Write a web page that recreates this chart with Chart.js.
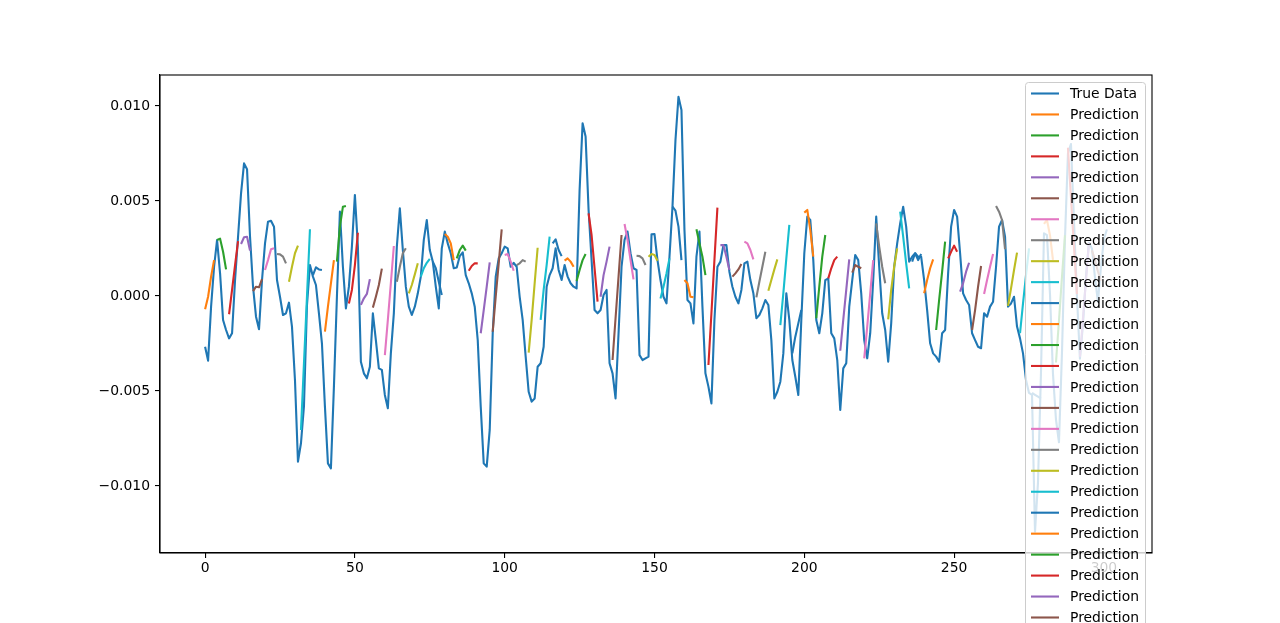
<!DOCTYPE html>
<html>
<head>
<meta charset="utf-8">
<script src="https://cdn.jsdelivr.net/npm/chart.js@4.4.1/dist/chart.umd.min.js"></script>
<style>
  html, body { margin: 0; padding: 0; background: #fff; }
  canvas { display: block; }
</style>
</head>
<body>
<canvas id="chart" width="1280" height="623"></canvas>
<script>
// ==========================================
// DATOS
// ==========================================
const xTicks = [0, 50, 100, 150, 200, 250, 300];
const yTicks = [-0.010, -0.005, 0.000, 0.005, 0.010];

const trueData = [
  -0.00267, -0.00340, -0.00056, 0.00154, 0.00295, 0.00119, -0.00126, -0.00179, -0.00223, -0.00196,
  0.00084, 0.00312, 0.00540, 0.00698, 0.00667, 0.00312, 0.00049, -0.00109, -0.00175, 0.00084,
  0.00277, 0.00391, 0.00396, 0.00365, 0.00084, -0.00004, -0.00100, -0.00091, -0.00035, -0.00161,
  -0.00442, -0.00872, -0.00775, -0.00580, -0.00050, 0.00163, 0.00102, 0.00058, -0.00091, -0.00249,
  -0.00582, -0.00881, -0.00907, -0.00477, -0.00004, 0.00444, 0.00154, -0.00065, 0.00049, 0.00260,
  0.00532, 0.00260, -0.00346, -0.00407, -0.00433, -0.00372, -0.00091, -0.00232, -0.00381, -0.00389,
  -0.00521, -0.00591, -0.00302, -0.00091, 0.00260, 0.00461, 0.00242, 0.00049, -0.00056, -0.00100,
  -0.00056, 0.00014, 0.00102, 0.00295, 0.00400, 0.00242, 0.00181, 0.00049, -0.00065, 0.00251,
  0.00339, 0.00277, 0.00225, 0.00146, 0.00150, 0.00210, 0.00230, 0.00110, 0.00067, 0.00014,
  -0.00056, -0.00232, -0.00582, -0.00881, -0.00898, -0.00705, -0.00196, 0.00102, 0.00198, 0.00225,
  0.00260, 0.00251, 0.00154, 0.00175, 0.00154, -0.00004, -0.00126, -0.00319, -0.00504, -0.00556,
  -0.00539, -0.00372, -0.00354, -0.00267, 0.00049, 0.00110, 0.00146, 0.00251, 0.00137, 0.00084,
  0.00163, 0.00102, 0.00067, 0.00049, 0.00040, 0.00558, 0.00909, 0.00839, 0.00453, 0.00189,
  -0.00074, -0.00091, -0.00074, 0.00005, 0.00032, -0.00354, -0.00407, -0.00539, -0.00196, 0.00154,
  0.00295, 0.00339, 0.00225, 0.00146, 0.00137, -0.00311, -0.00337, -0.00328, -0.00319, 0.00325,
  0.00326, 0.00189, 0.00084, -0.00004, -0.00039, 0.00207, 0.00470, 0.00821, 0.01049, 0.00979,
  0.00347, -0.00021, -0.00039, -0.00144, 0.00207, 0.00339, -0.00056, -0.00407, -0.00477, -0.00565,
  -0.00126, 0.00154, 0.00181, 0.00268, 0.00268, 0.00128, 0.00049, -0.00004, -0.00039, 0.00032,
  0.00172, 0.00181, 0.00084, 0.00014, -0.00117, -0.00100, -0.00065, -0.00021, -0.00047, -0.00232,
  -0.00539, -0.00504, -0.00451, -0.00302, 0.00014, -0.00126, -0.00337, -0.00425, -0.00521, -0.00126,
  0.00225, 0.00418, 0.00400, 0.00189, -0.00126, -0.00196, -0.00091, 0.00084, 0.00093, -0.00196,
  -0.00223, -0.00337, -0.00600, -0.00381, -0.00354, -0.00056, 0.00084, 0.00216, 0.00189, 0.00014,
  -0.00232, -0.00328, -0.00196, 0.00084, 0.00418, 0.00154, -0.00091, -0.00179, -0.00346, -0.00144,
  0.00154, 0.00277, 0.00382, 0.00470, 0.00365, 0.00181, 0.00207, 0.00225, 0.00207, 0.00207,
  0.00084, -0.00074, -0.00249, -0.00302, -0.00319, -0.00346, -0.00196, -0.00179, 0.00119, 0.00365,
  0.00453, 0.00418, 0.00225, 0.00014, -0.00021, -0.00047, -0.00196, -0.00232, -0.00267, -0.00275,
  -0.00091, -0.00109, -0.00056, -0.00030, 0.00154, 0.00365, 0.00400, 0.00312, -0.00056, -0.00039,
  -0.00004, -0.00161, -0.00223, -0.00302, -0.00442, -0.00510, -0.00520, -0.01240, -0.00980, -0.00400,
  0.00330, 0.00320, 0.00010, -0.00410, -0.00650, -0.00770, -0.00300, 0.00300, 0.00750, 0.00800,
  0.00400, 0.00000, -0.00330, -0.00150, 0.00100, 0.00280, 0.00250, 0.00100, -0.00030, 0.00150,
  0.00300, 0.00350
];

// cada predicción son 4 pasos, empezando cada 4 puntos
const predStep = 4;
const predValues = [
  [-0.00070, -0.00004, 0.00102, 0.00189],
  [0.00295, 0.00302, 0.00233, 0.00140],
  [-0.00096, 0.00032, 0.00163, 0.00289],
  [0.00274, 0.00309, 0.00312, 0.00239],
  [0.00026, 0.00049, 0.00046, 0.00089],
  [0.00137, 0.00189, 0.00246, 0.00251],
  [0.00221, 0.00219, 0.00207, 0.00172],
  [0.00075, 0.00154, 0.00225, 0.00265],
  [-0.00705, -0.00354, -0.00004, 0.00351],
  [0.00110, 0.00151, 0.00140, 0.00137],
  [-0.00188, -0.00056, 0.00067, 0.00189],
  [0.00181, 0.00365, 0.00470, 0.00474],
  [-0.00039, 0.00032, 0.00163, 0.00333],
  [-0.00047, -0.00012, 0.00011, 0.00089],
  [-0.00061, -0.00004, 0.00058, 0.00144],
  [-0.00311, -0.00126, 0.00067, 0.00263],
  [0.00075, 0.00154, 0.00225, 0.00251],
  [0.00014, 0.00058, 0.00114, 0.00172],
  [0.00102, 0.00146, 0.00175, 0.00196],
  [0.00181, 0.00146, 0.00075, 0.00005],
  [0.00326, 0.00312, 0.00277, 0.00189],
  [0.00198, 0.00242, 0.00265, 0.00239],
  [0.00133, 0.00158, 0.00172, 0.00172],
  [-0.00196, -0.00074, 0.00049, 0.00177],
  [-0.00188, -0.00004, 0.00172, 0.00351],
  [0.00216, 0.00221, 0.00181, 0.00133],
  [0.00163, 0.00172, 0.00189, 0.00181],
  [-0.00298, -0.00126, 0.00067, 0.00254],
  [-0.00126, 0.00032, 0.00163, 0.00312],
  [0.00277, 0.00298, 0.00242, 0.00210],
  [0.00186, 0.00198, 0.00181, 0.00154],
  [0.00079, 0.00137, 0.00189, 0.00221],
  [0.00435, 0.00321, 0.00146, -0.00030],
  [-0.00004, 0.00110, 0.00181, 0.00260],
  [-0.00337, -0.00117, 0.00102, 0.00321],
  [0.00379, 0.00295, 0.00189, 0.00088],
  [0.00212, 0.00210, 0.00198, 0.00163],
  [0.00207, 0.00221, 0.00216, 0.00186],
  [-0.00013, 0.00049, 0.00119, 0.00198],
  [0.00470, 0.00449, 0.00365, 0.00189],
  [0.00084, 0.00067, -0.00004, -0.00007],
  [0.00351, 0.00277, 0.00207, 0.00110],
  [-0.00363, -0.00091, 0.00189, 0.00465],
  [0.00268, 0.00268, 0.00207, 0.00137],
  [0.00102, 0.00119, 0.00140, 0.00168],
  [0.00286, 0.00277, 0.00242, 0.00193],
  [-0.00007, 0.00075, 0.00154, 0.00233],
  [0.00028, 0.00084, 0.00140, 0.00193],
  [-0.00153, 0.00014, 0.00198, 0.00374],
  [-0.00302, -0.00214, -0.00144, -0.00074],
  [0.00439, 0.00453, 0.00347, 0.00207],
  [-0.00117, 0.00049, 0.00207, 0.00321],
  [0.00093, 0.00146, 0.00189, 0.00207],
  [-0.00288, -0.00126, 0.00032, 0.00193],
  [0.00123, 0.00163, 0.00154, 0.00146],
  [-0.00328, -0.00161, 0.00014, 0.00189],
  [0.00382, 0.00260, 0.00154, 0.00067],
  [-0.00123, 0.00032, 0.00154, 0.00251],
  [0.00444, 0.00312, 0.00172, 0.00040],
  [0.00181, 0.00225, 0.00189, 0.00221],
  [0.00014, 0.00084, 0.00146, 0.00193],
  [-0.00179, -0.00021, 0.00128, 0.00286],
  [0.00198, 0.00233, 0.00265, 0.00233],
  [0.00023, 0.00067, 0.00128, 0.00175],
  [-0.00179, -0.00074, 0.00049, 0.00158],
  [0.00011, 0.00084, 0.00154, 0.00221],
  [0.00474, 0.00444, 0.00400, 0.00246],
  [-0.00052, 0.00040, 0.00137, 0.00228],
  [-0.00196, -0.00039, 0.00110, 0.00251],
  [-0.00510, -0.00520, -0.00530, -0.00540],
  [0.00380, 0.00400, 0.00320, 0.00190],
  [-0.00350, -0.00130, 0.00100, 0.00320],
  [0.00780, 0.00520, 0.00260, 0.00010],
  [-0.00320, -0.00120, 0.00080, 0.00280],
  [0.00240, 0.00190, 0.00130, 0.00080]
];

// paleta tab10 de matplotlib
const tab10 = ['#1f77b4', '#ff7f0e', '#2ca02c', '#d62728', '#9467bd',
               '#8c564b', '#e377c2', '#7f7f7f', '#bcbd22', '#17becf'];

const FONT = 'DejaVu Sans';

// ==========================================
// DATASETS
// ==========================================
const datasets = [];
datasets.push({
    label: 'True Data',
    data: trueData.map((v, i) => ({ x: i, y: v })),
    borderColor: tab10[0],
    order: 1
});
predValues.forEach((seg, k) => {
    datasets.push({
        label: 'Prediction',
        data: seg.map((v, j) => ({ x: k * predStep + j, y: v })),
        borderColor: tab10[(k + 1) % 10],
        order: 0
    });
});

// marco completo (spines) y leyenda estilo matplotlib
const framePlugin = {
    id: 'frame',
    afterDatasetsDraw(chart) {
        const { ctx, chartArea: a } = chart;
        ctx.save();
        ctx.strokeStyle = '#000';
        ctx.lineWidth = 1.1;
        ctx.strokeRect(a.left, a.top, a.right - a.left, a.bottom - a.top);
        ctx.restore();
    }
};

const legendPlugin = {
    id: 'mplLegend',
    afterDraw(chart) {
        const { ctx, chartArea: a } = chart;
        const sets = chart.data.datasets;
        const rowH = 20.96;
        const boxRight = a.right - 7;
        const boxLeft = boxRight - 120;
        const boxTop = a.top + 7;
        const boxH = 8 + rowH * sets.length;

        ctx.save();
        ctx.beginPath();
        ctx.roundRect(boxLeft + 0.5, boxTop + 0.5, boxRight - boxLeft, boxH, 3);
        ctx.fillStyle = 'rgba(255,255,255,0.8)';
        ctx.fill();
        ctx.strokeStyle = '#cccccc';
        ctx.lineWidth = 1;
        ctx.stroke();

        ctx.font = '13.9px "' + FONT + '"';
        ctx.textBaseline = 'middle';
        sets.forEach((ds, i) => {
            const y = boxTop + 11.5 + i * rowH;
            ctx.beginPath();
            ctx.moveTo(boxLeft + 6, y);
            ctx.lineTo(boxLeft + 34, y);
            ctx.strokeStyle = ds.borderColor;
            ctx.lineWidth = 2.1;
            ctx.stroke();
            ctx.fillStyle = '#000';
            ctx.fillText(ds.label, boxLeft + 45, y + 1);
        });
        ctx.restore();
    }
};

const tickFont = { family: FONT, size: 13.9 };

new Chart(document.getElementById('chart').getContext('2d'), {
    type: 'line',
    data: { datasets },
    options: {
        responsive: false,
        animation: false,
        layout: { padding: { top: 75, right: 128, left: 0, bottom: 0 } },
        elements: {
            line: { borderWidth: 2.1, tension: 0, fill: false, borderCapStyle: 'butt', borderJoinStyle: 'round' },
            point: { radius: 0, hoverRadius: 0 }
        },
        plugins: {
            legend: { display: false },
            tooltip: { enabled: false }
        },
        scales: {
            x: {
                type: 'linear',
                min: -15.05,
                max: 316.05,
                afterFit: s => { s.height = 70; },
                afterBuildTicks: s => { s.ticks = xTicks.map(v => ({ value: v })); },
                grid: { display: true, drawOnChartArea: false, drawTicks: true, tickLength: 5, color: '#000', lineWidth: 1.1 },
                border: { display: true, color: '#000', width: 1.1 },
                ticks: { color: '#000', font: tickFont, padding: 2, maxRotation: 0, autoSkip: false,
                         callback: v => String(v) }
            },
            y: {
                type: 'linear',
                min: -0.013526,
                max: 0.011632,
                afterFit: s => { s.width = 160; },
                afterBuildTicks: s => { s.ticks = yTicks.map(v => ({ value: v })); },
                grid: { display: true, drawOnChartArea: false, drawTicks: true, tickLength: 5, color: '#000', lineWidth: 1.1 },
                border: { display: true, color: '#000', width: 1.1 },
                ticks: { color: '#000', font: tickFont, padding: 5, autoSkip: false,
                         callback: v => v.toFixed(3).replace('-', '\u2212') }
            }
        }
    },
    plugins: [framePlugin, legendPlugin]
});
</script>
</body>
</html>
